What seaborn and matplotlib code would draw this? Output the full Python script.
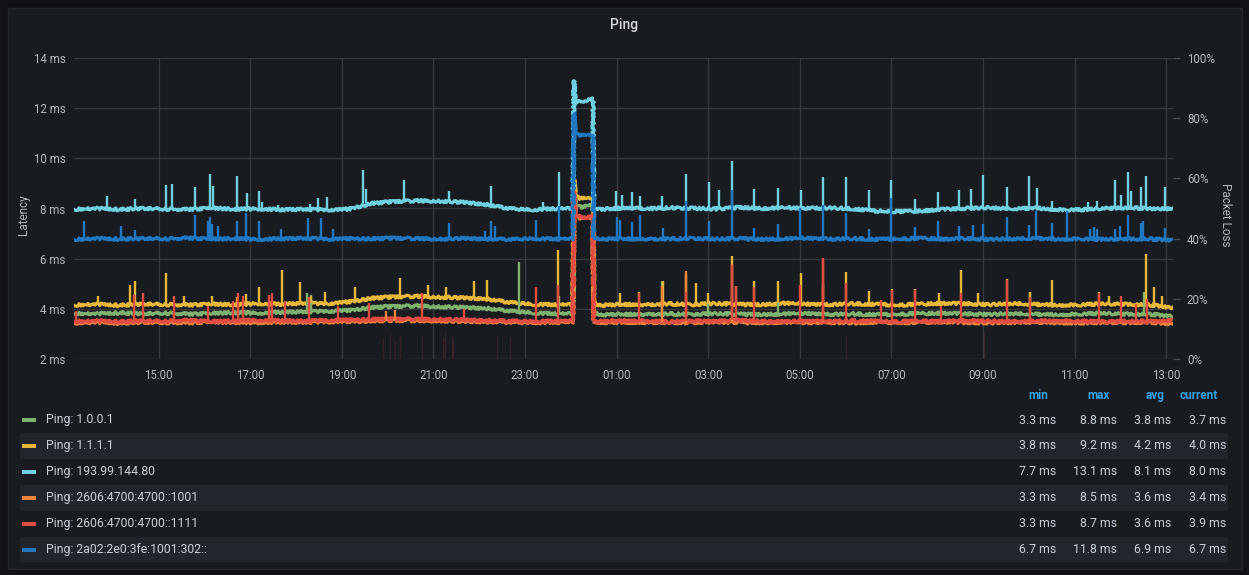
import numpy as np
import pandas as pd
import matplotlib
matplotlib.use("Agg")
import matplotlib.pyplot as plt
import matplotlib.dates as mdates
from matplotlib.patches import Rectangle
import seaborn as sns


### series, legend order (later ones are drawn on top)
series_names = ["Ping: 1.0.0.1", "Ping: 1.1.1.1", "Ping: 193.99.144.80",
                "Ping: 2606:4700:4700::1001", "Ping: 2606:4700:4700::1111",
                "Ping: 2a02:2e0:3fe:1001:302::"]
series_colors = ["#7eb26d", "#eab839", "#6ed0e0", "#ef843c", "#e24d42", "#1f78c1"]

legend_min = ["3.3 ms", "3.8 ms", "7.7 ms", "3.3 ms", "3.3 ms", "6.7 ms"]
legend_max = ["8.8 ms", "9.2 ms", "13.1 ms", "8.5 ms", "8.7 ms", "11.8 ms"]
legend_avg = ["3.8 ms", "4.2 ms", "8.1 ms", "3.6 ms", "3.6 ms", "6.9 ms"]
legend_cur = ["3.7 ms", "4.0 ms", "8.0 ms", "3.4 ms", "3.9 ms", "6.7 ms"]

### base latency, one sample every 30 min starting 13:09
grid_start = "13:09"
green_ms = [3.82, 3.80, 3.84, 3.81, 3.83, 3.79, 3.82, 3.85, 3.83, 3.86, 3.88, 3.90,
            3.94, 4.05, 4.10, 4.12, 4.08, 4.06, 4.02, 3.92, 3.84, 3.80,
            8.08,
            3.76, 3.79, 3.77, 3.80, 3.78, 3.81, 3.79, 3.77, 3.80, 3.82, 3.78, 3.80, 3.77,
            3.79, 3.81, 3.83, 3.80, 3.78, 3.81, 3.79, 3.77, 3.80, 3.82, 3.79, 3.78, 3.72]
yellow_ms = [4.15, 4.18, 4.14, 4.20, 4.17, 4.15, 4.19, 4.16, 4.21, 4.18, 4.22, 4.20,
             4.28, 4.42, 4.48, 4.50, 4.46, 4.44, 4.40, 4.26, 4.18, 4.16,
             8.42,
             4.14, 4.18, 4.15, 4.20, 4.17, 4.21, 4.18, 4.16, 4.22, 4.19, 4.17, 4.20, 4.18,
             4.15, 4.19, 4.22, 4.20, 4.17, 4.21, 4.18, 4.15, 4.17, 4.20, 4.18, 4.16, 4.05]
cyan_ms = [7.97, 8.00, 7.96, 8.01, 7.98, 7.96, 8.02, 7.97, 7.99, 7.95, 7.97, 7.94, 7.98,
           8.20, 8.28, 8.31, 8.29, 8.25, 8.16, 8.00, 7.95, 7.99,
           12.24,
           7.97, 8.02, 7.99, 8.03, 8.01, 7.98, 8.04, 8.00, 8.03, 8.01, 8.02, 7.99, 7.90,
           7.88, 7.90, 7.97, 8.01, 8.03, 7.99, 8.02, 7.96, 7.95, 8.01, 8.03, 8.00, 7.99]
orange_ms = [3.44, 3.46, 3.43, 3.47, 3.45, 3.44, 3.48, 3.46, 3.45, 3.47, 3.46,
             3.48, 3.50, 3.52, 3.54, 3.53, 3.52, 3.50, 3.49, 3.47, 3.45, 3.46,
             7.62,
             3.45, 3.47, 3.44, 3.46, 3.45, 3.48, 3.46, 3.44, 3.47, 3.45, 3.46, 3.44, 3.47,
             3.45, 3.46, 3.48, 3.45, 3.44, 3.46, 3.47, 3.45, 3.44, 3.46, 3.45, 3.47, 3.40]
red_ms = [3.50, 3.52, 3.49, 3.53, 3.51, 3.54, 3.50, 3.52, 3.55, 3.53, 3.51,
          3.54, 3.56, 3.58, 3.60, 3.59, 3.58, 3.56, 3.54, 3.52, 3.50, 3.51,
          7.68,
          3.50, 3.53, 3.51, 3.49, 3.52, 3.50, 3.54, 3.51, 3.49, 3.52, 3.50, 3.53, 3.51,
          3.49, 3.52, 3.50, 3.53, 3.51, 3.50, 3.52, 3.54, 3.51, 3.49, 3.52, 3.50, 3.55]
blue_ms = [6.77, 6.80, 6.78, 6.81, 6.79, 6.82, 6.78, 6.80, 6.77, 6.79, 6.81,
           6.78, 6.80, 6.79, 6.82, 6.80, 6.78, 6.81, 6.79, 6.77, 6.80, 6.78,
           10.93,
           6.78, 6.80, 6.77, 6.79, 6.81, 6.78, 6.80, 6.77, 6.79, 6.82, 6.78, 6.80, 6.77,
           6.79, 6.81, 6.78, 6.80, 6.77, 6.79, 6.81, 6.78, 6.80, 6.77, 6.79, 6.78, 6.75]

### the outage just after midnight
outage_times = ["00:03", "00:04", "00:06", "00:16", "00:22", "00:29", "00:30"]
green_out = [3.80, 8.80, 8.15, 8.05, 8.10, 8.12, 3.85]
yellow_out = [4.16, 9.20, 8.55, 8.40, 8.38, 8.45, 4.20]
cyan_out = [7.99, 13.10, 12.20, 12.28, 12.32, 12.36, 7.98]
orange_out = [3.46, 8.50, 7.75, 7.62, 7.60, 7.65, 3.46]
red_out = [3.51, 8.70, 7.75, 7.66, 7.64, 7.70, 3.52]
blue_out = [6.78, 11.80, 11.00, 10.92, 10.90, 10.95, 6.80]

### short latency spikes (time, peak ms)
green_spike_t = ["18:14", "18:20", "22:52", "23:44", "02:00", "03:00", "04:31", "10:01", "12:31"]
green_spike_ms = [4.63, 4.55, 5.85, 4.50, 5.09, 4.40, 4.40, 4.69, 4.69]

yellow_spike_t = ["13:41", "14:23", "14:29", "15:09", "15:33", "16:10", "16:43", "16:55",
                  "17:11", "17:41", "18:05", "18:20", "18:38", "19:17", "20:16", "20:53",
                  "21:17", "21:53", "22:10", "23:43", "01:04", "01:29", "02:01", "02:31",
                  "02:44", "03:00", "03:31", "03:36", "04:00", "04:32", "05:01", "05:31",
                  "06:01", "06:31", "07:01", "07:31", "08:03", "08:31", "08:53", "09:31",
                  "10:01", "10:30", "11:32", "11:45", "12:34", "12:44", "12:55"]
yellow_spike_ms = [4.52, 4.96, 5.09, 5.43, 4.52, 4.50, 4.49, 4.60,
                   4.87, 5.53, 5.07, 4.50, 4.69, 4.89, 5.23, 4.96,
                   4.89, 5.12, 5.16, 6.33, 4.63, 4.69, 5.09, 5.36,
                   5.03, 4.63, 6.09, 4.92, 5.09, 5.09, 5.43, 5.00,
                   5.45, 4.73, 4.79, 4.79, 4.63, 5.53, 4.65, 5.19,
                   4.69, 5.14, 4.69, 4.50, 6.20, 4.89, 4.50]

cyan_spike_t = ["13:52", "14:29", "15:10", "15:17", "15:47", "16:07", "16:11", "16:43",
                "16:56", "17:11", "17:15", "17:36", "18:18", "18:29", "18:40", "19:28",
                "19:32", "20:22", "21:21", "22:16", "23:23", "23:44", "00:59", "01:07",
                "01:20", "01:31", "02:00", "02:31", "03:01", "03:14", "03:31", "04:00",
                "04:31", "05:01", "05:31", "06:01", "06:31", "07:00", "07:31", "08:01",
                "08:29", "08:44", "09:00", "09:31", "10:00", "10:11", "10:31", "11:18",
                "11:30", "11:53", "12:01", "12:10", "12:14", "12:27", "12:34", "12:59"]
cyan_spike_ms = [8.51, 8.38, 8.95, 8.98, 8.86, 9.37, 8.91, 9.28,
                 8.62, 8.68, 8.26, 8.15, 8.16, 8.42, 8.46, 9.52,
                 8.78, 9.12, 8.68, 8.91, 8.24, 9.44, 8.68, 8.55,
                 8.64, 8.50, 8.50, 9.39, 9.06, 8.72, 9.90, 8.79,
                 8.81, 8.72, 9.24, 9.25, 8.72, 9.12, 8.38, 8.66,
                 8.75, 8.78, 9.32, 8.86, 9.28, 8.81, 8.28, 8.25,
                 8.30, 9.15, 8.55, 9.44, 8.71, 8.86, 9.31, 8.86]

orange_spike_t = ["19:58", "20:10", "02:00", "02:31", "03:31", "05:31"]
orange_spike_ms = [3.90, 3.95, 4.90, 5.50, 5.80, 5.90]

red_spike_t = ["13:12", "14:28", "14:40", "15:20", "16:05", "16:37", "16:44", "16:50",
               "17:25", "17:29", "17:45", "18:17", "18:55", "19:35", "20:45", "21:40",
               "23:14", "23:43", "01:29", "02:31", "03:31", "03:36", "04:00", "05:00",
               "05:31", "06:01", "06:47", "07:01", "07:31", "08:05", "08:31", "09:31",
               "10:01", "11:32", "12:01", "12:20", "12:35"]
red_spike_ms = [3.90, 4.54, 4.63, 4.52, 4.10, 4.30, 4.63, 4.50,
                4.56, 4.63, 4.30, 4.49, 4.10, 4.23, 4.63, 4.00,
                4.89, 4.96, 4.63, 4.69, 5.76, 4.92, 4.89, 4.96,
                6.03, 5.03, 4.36, 4.76, 4.76, 4.10, 4.63, 5.16,
                4.49, 4.63, 4.52, 4.20, 4.40]

blue_spike_t = ["13:22", "14:11", "14:29", "15:47", "16:04", "16:07", "16:10", "16:18",
                "16:43", "16:54", "17:11", "17:40", "18:16", "18:32", "18:48", "21:21",
                "22:08", "22:15", "22:21", "23:14", "23:44", "01:00", "01:05", "01:20",
                "01:30", "02:01", "02:31", "03:01", "03:31", "04:00", "04:31", "05:00",
                "05:31", "06:01", "06:31", "07:00", "07:31", "08:01", "08:29", "08:47",
                "09:00", "09:31", "10:00", "10:10", "10:31", "10:50", "11:20", "11:25",
                "11:30", "11:53", "12:00", "12:10", "12:27", "12:30", "12:59"]
blue_spike_ms = [7.49, 7.31, 7.15, 7.75, 7.50, 7.68, 7.40, 7.31,
                 7.49, 7.82, 7.49, 7.18, 7.62, 7.62, 7.18, 7.42,
                 7.09, 7.49, 7.29, 7.53, 8.08, 7.68, 7.55, 7.45,
                 7.75, 7.22, 8.28, 7.49, 8.75, 7.22, 7.39, 8.02,
                 8.15, 7.82, 7.18, 8.42, 7.25, 7.49, 7.31, 7.35,
                 7.39, 7.68, 7.35, 7.89, 7.44, 7.91, 7.20, 7.25,
                 7.20, 7.18, 7.31, 7.75, 7.44, 7.50, 7.22]

### packet loss (right axis, %)
loss_t = ["19:54", "20:03", "20:10", "20:16", "20:45", "21:12", "21:15",
          "21:24", "21:26", "22:23", "22:40", "06:01", "09:01"]
loss_pct = [7, 9, 6, 8, 8, 7, 9, 8, 6, 8, 7, 8, 9]


DAY = pd.Timestamp("2020-06-01")

def clock(hhmm):
    h, m = (int(v) for v in hhmm.split(":"))
    t = DAY + pd.Timedelta(hours=h, minutes=m)
    if h * 60 + m < 13 * 60 + 9:
        t += pd.Timedelta(days=1)
    return t


base_values = [green_ms, yellow_ms, cyan_ms, orange_ms, red_ms, blue_ms]
outage_values = [green_out, yellow_out, cyan_out, orange_out, red_out, blue_out]
spikes = [(green_spike_t, green_spike_ms), (yellow_spike_t, yellow_spike_ms),
          (cyan_spike_t, cyan_spike_ms), (orange_spike_t, orange_spike_ms),
          (red_spike_t, red_spike_ms), (blue_spike_t, blue_spike_ms)]

grid = pd.date_range(clock(grid_start), periods=len(cyan_ms), freq="30min")
out_t = [clock(s) for s in outage_times]

frames = []
for name, vals, outv in zip(series_names, base_values, outage_values):
    frames.append(pd.DataFrame({"time": list(grid) + out_t,
                                "ms": list(vals) + list(outv),
                                "series": name}))
lines = pd.concat(frames, ignore_index=True)


### figure
W, H = 1249, 575
def fx(px):
    return px / W
def fy(py):
    return 1 - py / H

sns.set_style("dark")
plt.rcParams["font.family"] = ["Roboto", "DejaVu Sans"]

BG = "#111217"
PANEL = "#181b1f"
TXT = "#c7d0d9"
TICK = "#b4b9c0"
GRID = "#363a3f"

fig = plt.figure(figsize=(W / 100, H / 100), dpi=100, facecolor=BG)
fig.add_artist(Rectangle((fx(7.5), fy(569)), fx(1241.5) - fx(7.5), (569 - 8) / H,
                         transform=fig.transFigure, facecolor=PANEL,
                         edgecolor="#24272c", linewidth=1, zorder=-2))

ax = fig.add_axes([fx(74), fy(359), fx(1173) - fx(74), (359 - 58) / H])
ax.set_facecolor("none")

sns.lineplot(data=lines, x="time", y="ms", hue="series", hue_order=series_names,
             palette=series_colors, estimator=None, sort=True, linewidth=2.2,
             legend=False, ax=ax)
# grafana draws thousands of samples, so the lines look fuzzy
for ln in ax.lines:
    ln.set_sketch_params(scale=1.4, length=2.5, randomness=3)

gt = grid.values
for color, vals, (st, sv) in zip(series_colors, base_values, spikes):
    tt = pd.DatetimeIndex([clock(s) for s in st])
    idx = np.abs(gt[None, :] - tt.values[:, None]).argmin(axis=1)
    ax.vlines(mdates.date2num(tt.to_pydatetime()), np.asarray(vals)[idx], sv,
              colors=color, linewidth=1.7)

ax.set_xlim(mdates.date2num(grid[0].to_pydatetime()), mdates.date2num(grid[-1].to_pydatetime()))
ax.set_ylim(2, 14)
ax.set_yticks(range(2, 15, 2))
ax.set_yticklabels([f"{v} ms" for v in range(2, 15, 2)])
ax.xaxis.set_major_locator(mdates.HourLocator(byhour=range(1, 24, 2)))
ax.xaxis.set_major_formatter(mdates.DateFormatter("%H:%M"))
ax.set_xlabel("")
ax.set_ylabel("")
ax.grid(True, color=GRID, linewidth=1)
ax.set_axisbelow(True)
ax.tick_params(axis="both", length=0, labelsize=8.3, labelcolor=TICK)
ax.tick_params(axis="x", pad=7)
ax.tick_params(axis="y", pad=6)
for s in ax.spines.values():
    s.set_visible(False)

ax2 = ax.twinx()
ax2.set_ylim(0, 100)
ax2.vlines(mdates.date2num(pd.DatetimeIndex([clock(s) for s in loss_t]).to_pydatetime()),
           0, loss_pct, colors="#e24d42", alpha=0.16, linewidth=1)
ax2.set_yticks(range(0, 101, 20))
ax2.set_yticklabels([f"{v}%" for v in range(0, 101, 20)])
ax2.tick_params(axis="y", length=5, width=1, color="#4a4d52", pad=5,
                labelsize=8.3, labelcolor=TICK)
ax2.grid(False)
for s in ax2.spines.values():
    s.set_visible(False)

fig.text(fx(624), fy(25), "Ping", ha="center", va="center", fontsize=10,
         fontweight="medium", color="#d8d9da")
fig.text(fx(23.5), fy(215), "Latency", ha="center", va="center", rotation=90,
         fontsize=8.5, color=TICK)
fig.text(fx(1225), fy(215), "Packet Loss", ha="center", va="center", rotation=270,
         fontsize=8.5, color=TICK)

### legend table
header_x = [1048, 1110, 1164, 1218]
value_x = [1056, 1117, 1171, 1226]
for hx, lab in zip(header_x, ["min", "max", "avg", "current"]):
    fig.text(fx(hx), fy(395.5), lab, ha="right", va="center", fontsize=8.5,
             fontweight="bold", color="#33a2e5")

for i, name in enumerate(series_names):
    cy = 420 + 25.9 * i
    if i % 2 == 1:
        fig.add_artist(Rectangle((fx(20), fy(cy + 12.9)), fx(1228) - fx(20), 25.8 / H,
                                 transform=fig.transFigure, facecolor="#22252b",
                                 edgecolor="none", zorder=-1))
    fig.add_artist(Rectangle((fx(22), fy(cy + 2)), fx(36) - fx(22), 4 / H,
                             transform=fig.transFigure, facecolor=series_colors[i],
                             edgecolor="none"))
    fig.text(fx(46), fy(cy), name, ha="left", va="center", fontsize=8.8, color=TXT)
    for vx, col in zip(value_x, [legend_min, legend_max, legend_avg, legend_cur]):
        fig.text(fx(vx), fy(cy), col[i], ha="right", va="center", fontsize=8.8, color=TXT)

fig.savefig("out.png", dpi=100, facecolor=BG)
